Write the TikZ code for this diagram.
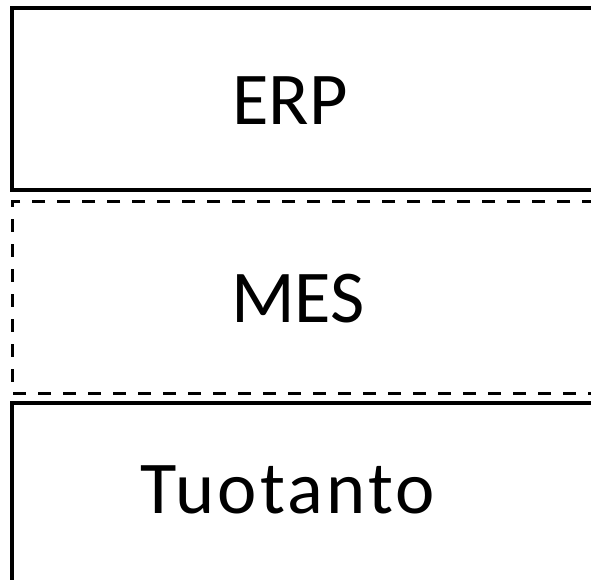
\documentclass[tikz,border=0pt]{standalone}
\usepackage{fontspec}
\setmainfont{Carlito}
\newfontfamily\widelabel[LetterSpace=4.4]{Carlito}
\begin{document}
\begin{tikzpicture}[x=1pt, y=-1pt,
    layerbox/.style={draw=black, line width=4.5pt},
    midbox/.style={draw=black, line width=3pt, dash pattern=on 13pt off 12pt},
    layerlabel/.style={font=\fontsize{74.5}{80}\selectfont, anchor=base, inner sep=0pt}]
  \useasboundingbox (0,0) rectangle (591,580);
  \clip (0,0) rectangle (591,580);
  % three stacked layers, right and bottom edges run off the page
  \draw[layerbox] (620,8) -- (12,8) -- (12,190) -- (620,190);
  \draw[midbox] (620,201.5) -- (12.5,201.5) -- (12.5,393.5) -- (620,393.5);
  \draw[layerbox] (620,403) -- (12,403) -- (12,600);
  % layer names
  \node[layerlabel] (erp) at (290,125) {ERP};
  \node[layerlabel] (mes) at (298,322) {MES};
  \node[layerlabel, font=\widelabel\fontsize{74.5}{80}\selectfont] (tuotanto) at (288,513) {Tuotanto};
\end{tikzpicture}
\end{document}
